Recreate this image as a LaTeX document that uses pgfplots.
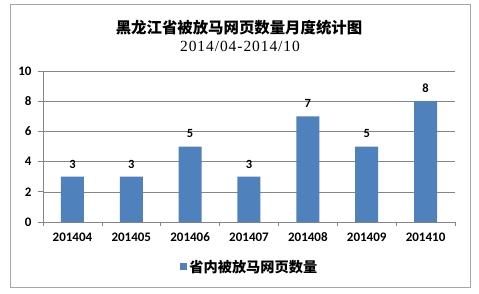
\documentclass[border=0pt]{standalone}
\usepackage{pgfplots}
\pgfplotsset{compat=1.18}
\usepackage{fontspec}
\setmainfont{Carlito}
\newfontfamily\cjk{Noto Sans CJK SC}
\newfontfamily\serif[LetterSpace=6]{Liberation Serif}
\definecolor{barblue}{HTML}{4F81BD}
\definecolor{gridgray}{HTML}{868686}
\begin{document}
\begin{tikzpicture}
\path[use as bounding box, fill=white] (0pt,0pt) rectangle (479pt,293pt);
\draw[color=black!35, line width=0.9pt] (10pt,6pt) rectangle (470pt,289pt);
\node[font=\cjk\bfseries\fontsize{15.4}{16}\selectfont] at (239pt,265pt) {黑龙江省被放马网页数量月度统计图};
\node[font=\serif\fontsize{15.5}{16}\selectfont] at (240pt,247pt) {2014/04-2014/10};
\begin{axis}[
  at={(43pt,71pt)}, anchor=south west,
  scale only axis, width=412pt, height=151pt,
  xmin=-0.5, xmax=6.5, ymin=0, ymax=10,
  axis lines*=left,
  axis line style={gridgray, line width=0.7pt},
  ytick={0,2,...,10},
  ymajorgrids, grid style={gridgray, line width=0.6pt},
  xtick={0,...,6},
  xticklabels={201404,201405,201406,201407,201408,201409,201410},
  minor xtick={-0.5,0.5,...,6.5},
  tick align=outside,
  major tick length=5pt,
  minor tick length=4pt,
  x tick style={draw=none},
  minor x tick style={draw=gridgray, line width=0.7pt},
  y tick style={gridgray, line width=0.7pt},
  tick label style={font=\bfseries\fontsize{13}{13}\selectfont},
  xticklabel style={yshift=-2pt},
  yticklabel style={xshift=-3pt},
  /pgf/number format/assume math mode=true,
  ybar, bar width=23pt,
  nodes near coords,
  nodes near coords style={font=\bfseries\fontsize{12.5}{13}\selectfont, yshift=5pt},
  legend style={at={(0.502,-0.296)}, anchor=center, draw=none, fill=none,
    font=\cjk\bfseries\fontsize{14.2}{14}\selectfont},
  legend image code/.code={\fill[barblue] (0pt,-3.5pt) rectangle (7pt,3.5pt);},
]
\addplot[fill=barblue, draw=none] coordinates {(0,3) (1,3) (2,5) (3,3) (4,7) (5,5) (6,8)};
\addlegendentry{省内被放马网页数量}
\end{axis}
\end{tikzpicture}
\end{document}
